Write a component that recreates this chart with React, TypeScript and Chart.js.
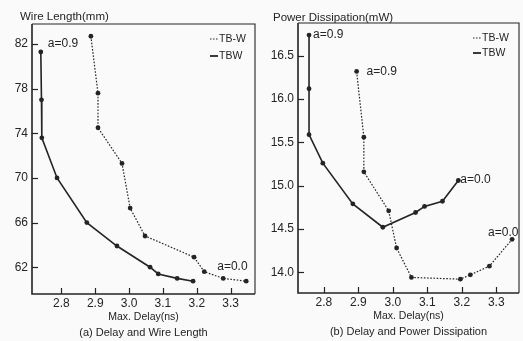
import React, { useEffect, useRef } from 'react';
import { Chart, registerables } from 'chart.js';

Chart.register(...registerables);

const FONT = '"Liberation Sans", Arial, Helvetica, sans-serif';
const INK = '#242424';
const BG = '#fafafa';

// ---- Panel (a): Delay vs Wire Length ----
const wireTBW_x = [2.739, 2.741, 2.742, 2.787, 2.875, 2.964, 3.062, 3.086, 3.142, 3.189];
const wireTBW_y = [81.3, 77.0, 73.6, 70.0, 66.0, 63.9, 62.0, 61.4, 61.0, 60.75];
const wireTB_W_x = [2.887, 2.908, 2.908, 2.979, 3.003, 3.047, 3.192, 3.222, 3.278, 3.346];
const wireTB_W_y = [82.7, 77.6, 74.5, 71.3, 67.3, 64.8, 62.9, 61.6, 61.0, 60.75];

// ---- Panel (b): Delay vs Power Dissipation ----
const powTBW_x = [2.757, 2.757, 2.757, 2.797, 2.884, 2.971, 3.066, 3.092, 3.144, 3.19];
const powTBW_y = [16.74, 16.12, 15.59, 15.26, 14.79, 14.52, 14.69, 14.76, 14.82, 15.06];
const powTB_W_x = [2.895, 2.916, 2.916, 2.988, 3.011, 3.054, 3.196, 3.225, 3.28, 3.346];
const powTB_W_y = [16.32, 15.56, 15.16, 14.71, 14.28, 13.94, 13.92, 13.97, 14.07, 14.38];

const delayTicks = [2.8, 2.9, 3.0, 3.1, 3.2, 3.3];
const wireTicks = [62, 66, 70, 74, 78, 82];
const powerTicks = [14.0, 14.5, 15.0, 15.5, 16.0, 16.5];

const seriesNames = ['TB-W', 'TBW'];

type Note = { ds: number; idx: number; text: string; dx: number; dy: number };

type PanelCfg = {
  width: number;
  height: number;
  tbw: { x: number[]; y: number[] };
  tbW: { x: number[]; y: number[] };
  xMin: number; xMax: number; yMin: number; yMax: number;
  yTicks: number[];
  yDecimals: number;
  yAxisWidth: number;
  xAxisHeight: number;
  padTop: number;
  padRight: number;
  yLabel: string;
  yLabelDx: number;
  yLabelDy: number;
  xTitle: string;
  caption: string;
  legendDx: number;
  legendGap: number;
  notes: Note[];
};

function pts(xs: number[], ys: number[]) {
  return xs.map((x, i) => ({ x, y: ys[i] }));
}

function buildChart(canvas: HTMLCanvasElement, cfg: PanelCfg) {
  const decor = {
    id: 'decor',
    beforeDraw(chart: any) {
      const c = chart.ctx;
      c.save();
      c.fillStyle = BG;
      c.fillRect(0, 0, chart.width, chart.height);
      c.restore();
    },
    afterDraw(chart: any) {
      const c = chart.ctx;
      const a = chart.chartArea;
      const xs = chart.scales.x;
      const ys = chart.scales.y;
      c.save();
      c.strokeStyle = INK;
      // frame: heavier axes, lighter top/right
      c.lineWidth = 1.1;
      c.beginPath();
      c.moveTo(a.left, a.top);
      c.lineTo(a.right, a.top);
      c.lineTo(a.right, a.bottom);
      c.stroke();
      c.lineWidth = 1.6;
      c.beginPath();
      c.moveTo(a.left, a.top);
      c.lineTo(a.left, a.bottom);
      c.lineTo(a.right, a.bottom);
      c.stroke();
      // inward tick marks
      c.lineWidth = 1.2;
      xs.ticks.forEach((t: any) => {
        const px = Math.round(xs.getPixelForValue(t.value)) + 0.5;
        c.beginPath();
        c.moveTo(px, a.bottom);
        c.lineTo(px, a.bottom - 6);
        c.stroke();
      });
      ys.ticks.forEach((t: any) => {
        const py = Math.round(ys.getPixelForValue(t.value)) + 0.5;
        c.beginPath();
        c.moveTo(a.left, py);
        c.lineTo(a.left + 6, py);
        c.stroke();
      });
      c.fillStyle = INK;
      c.textBaseline = 'middle';
      // y label
      c.font = `11.5px ${FONT}`;
      c.textAlign = 'left';
      c.fillText(cfg.yLabel, a.left + cfg.yLabelDx, a.top + cfg.yLabelDy);
      // x title + caption
      c.textAlign = 'center';
      const cx = (a.left + a.right) / 2;
      c.font = `10.5px ${FONT}`;
      c.fillText(cfg.xTitle, cx, a.bottom + 23);
      c.font = `11px ${FONT}`;
      c.fillText(cfg.caption, cx, a.bottom + 39);
      // legend
      c.font = `10.5px ${FONT}`;
      c.textAlign = 'left';
      const lx1 = a.right - cfg.legendDx;
      const lx0 = lx1 - 8;
      const ly = [a.top + 15, a.top + 15 + cfg.legendGap];
      seriesNames.forEach((name, i) => {
        c.beginPath();
        c.lineWidth = i === 0 ? 1.2 : 1.8;
        c.setLineDash(i === 0 ? [1.5, 1.5] : []);
        c.moveTo(lx0, ly[i]);
        c.lineTo(lx1, ly[i]);
        c.stroke();
        c.setLineDash([]);
        c.fillText(name, lx1 + 1, ly[i]);
      });
      // annotations
      c.font = `12px ${FONT}`;
      cfg.notes.forEach((n) => {
        const d = chart.data.datasets[n.ds].data[n.idx];
        const px = xs.getPixelForValue(d.x);
        const py = ys.getPixelForValue(d.y);
        c.fillText(n.text, px + n.dx, py + n.dy);
      });
      c.restore();
    },
  };

  return new Chart(canvas, {
    type: 'scatter',
    data: {
      datasets: [
        {
          label: seriesNames[0],
          data: pts(cfg.tbW.x, cfg.tbW.y),
          showLine: true,
          borderColor: INK,
          borderWidth: 1.2,
          borderDash: [1.6, 1.6],
          pointRadius: 2.4,
          pointBackgroundColor: INK,
          pointBorderWidth: 0,
        },
        {
          label: seriesNames[1],
          data: pts(cfg.tbw.x, cfg.tbw.y),
          showLine: true,
          borderColor: INK,
          borderWidth: 1.6,
          pointRadius: 2.4,
          pointBackgroundColor: INK,
          pointBorderWidth: 0,
        },
      ],
    },
    options: {
      animation: false,
      responsive: false,
      maintainAspectRatio: false,
      layout: { padding: { top: cfg.padTop, right: cfg.padRight, left: 0, bottom: 0 } },
      plugins: { legend: { display: false }, tooltip: { enabled: false } },
      scales: {
        x: {
          type: 'linear',
          min: cfg.xMin,
          max: cfg.xMax,
          afterBuildTicks: (s: any) => { s.ticks = delayTicks.map((v) => ({ value: v })); },
          afterFit: (s: any) => { s.height = cfg.xAxisHeight; },
          grid: { display: false, drawOnChartArea: false, drawTicks: false },
          border: { display: false },
          ticks: {
            padding: 2,
            color: INK,
            font: { family: FONT, size: 12 },
            callback: (v: any) => Number(v).toFixed(1),
          },
        },
        y: {
          type: 'linear',
          min: cfg.yMin,
          max: cfg.yMax,
          afterBuildTicks: (s: any) => { s.ticks = cfg.yTicks.map((v) => ({ value: v })); },
          afterFit: (s: any) => { s.width = cfg.yAxisWidth; },
          grid: { display: false, drawOnChartArea: false, drawTicks: false },
          border: { display: false },
          ticks: {
            padding: 4,
            color: INK,
            font: { family: FONT, size: 12 },
            callback: (v: any) => Number(v).toFixed(cfg.yDecimals),
          },
        },
      },
    },
    plugins: [decor],
  } as any);
}

const panelA: PanelCfg = {
  width: 261,
  height: 341,
  tbw: { x: wireTBW_x, y: wireTBW_y },
  tbW: { x: wireTB_W_x, y: wireTB_W_y },
  xMin: 2.713, xMax: 3.372, yMin: 59.6, yMax: 83.8,
  yTicks: wireTicks,
  yDecimals: 0,
  yAxisWidth: 32,
  xAxisHeight: 47,
  padTop: 24,
  padRight: 6,
  yLabel: 'Wire Length(mm)',
  yLabelDx: -12,
  yLabelDy: -7,
  xTitle: 'Max. Delay(ns)',
  caption: '(a) Delay and Wire Length',
  legendDx: 37,
  legendGap: 17,
  notes: [
    { ds: 1, idx: 0, text: 'a=0.9', dx: 7, dy: -8 },
    { ds: 0, idx: 9, text: 'a=0.0', dx: -29, dy: -14 },
  ],
};

const panelB: PanelCfg = {
  width: 262,
  height: 341,
  tbw: { x: powTBW_x, y: powTBW_y },
  tbW: { x: powTB_W_x, y: powTB_W_y },
  xMin: 2.725, xMax: 3.366, yMin: 13.76, yMax: 16.88,
  yTicks: powerTicks,
  yDecimals: 1,
  yAxisWidth: 37,
  xAxisHeight: 48,
  padTop: 23,
  padRight: 3,
  yLabel: 'Power Dissipation(mW)',
  yLabelDx: -25,
  yLabelDy: -5,
  xTitle: 'Max. Delay(ns)',
  caption: '(b) Delay and Power Dissipation',
  legendDx: 38,
  legendGap: 15,
  notes: [
    { ds: 1, idx: 0, text: 'a=0.9', dx: 4, dy: 0 },
    { ds: 0, idx: 0, text: 'a=0.9', dx: 10, dy: 0 },
    { ds: 1, idx: 9, text: 'a=0.0', dx: 2, dy: -1 },
    { ds: 0, idx: 9, text: 'a=0.0', dx: -24, dy: -7 },
  ],
};

function Panel({ cfg }: { cfg: PanelCfg }) {
  const ref = useRef<HTMLCanvasElement | null>(null);
  useEffect(() => {
    if (!ref.current) return;
    const ch = buildChart(ref.current, cfg);
    return () => ch.destroy();
  }, [cfg]);
  return (
    <canvas
      ref={ref}
      width={cfg.width}
      height={cfg.height}
      style={{ display: 'block', width: cfg.width, height: cfg.height }}
    />
  );
}

export default function App() {
  useEffect(() => {
    document.body.style.margin = '0';
    document.body.style.background = BG;
  }, []);
  return (
    <div style={{ display: 'flex', width: 523, height: 341, background: BG }}>
      <Panel cfg={panelA} />
      <Panel cfg={panelB} />
    </div>
  );
}
